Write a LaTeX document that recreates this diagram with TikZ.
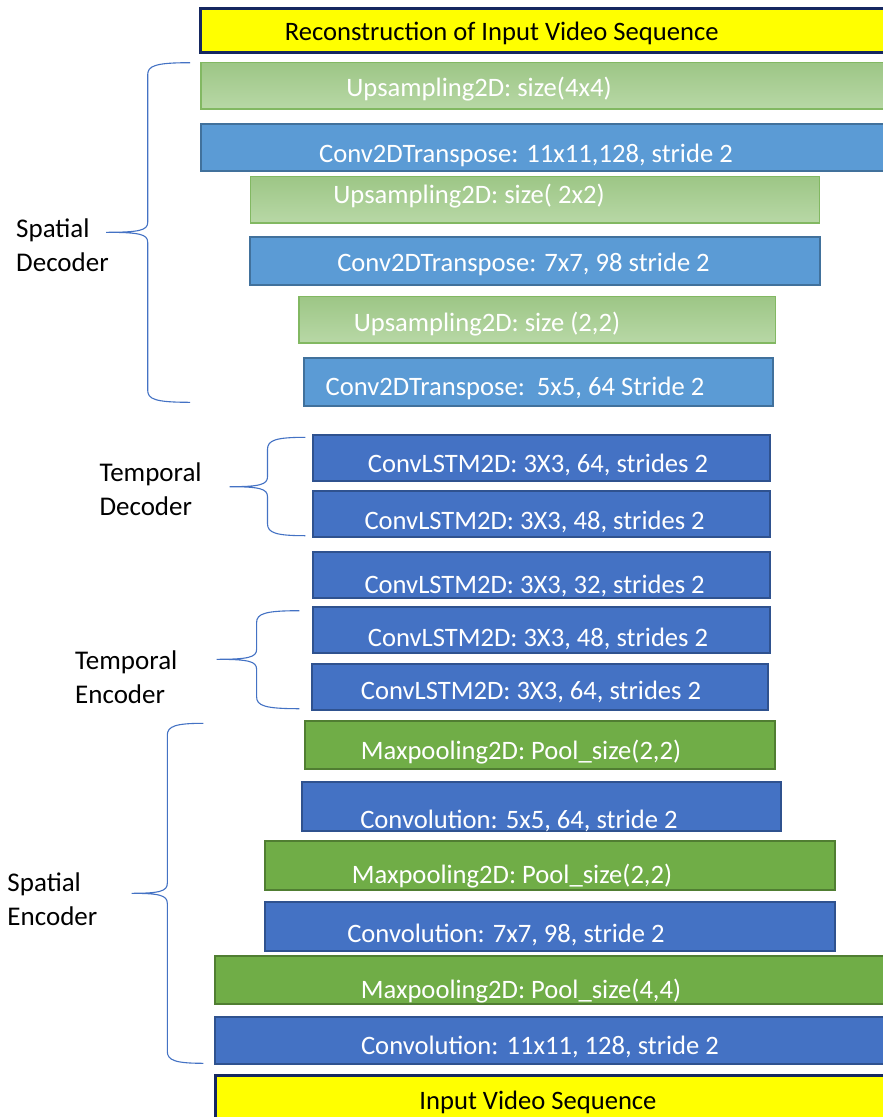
\documentclass[tikz,border=0pt]{standalone}
\usepackage{fontspec}
\setmainfont{Carlito}
\definecolor{ylw}{RGB}{255,255,0}
\definecolor{navy}{RGB}{22,40,96}
\definecolor{lgtop}{RGB}{157,198,134}
\definecolor{lgbot}{RGB}{184,216,166}
\definecolor{lgline}{RGB}{130,184,98}
\definecolor{bluea}{RGB}{91,155,213}
\definecolor{blueaedge}{RGB}{65,113,156}
\definecolor{blueb}{RGB}{68,114,196}
\definecolor{bluebedge}{RGB}{47,82,143}
\definecolor{grn}{RGB}{112,173,71}
\definecolor{grnedge}{RGB}{80,126,50}
\definecolor{bracec}{RGB}{68,114,196}
\newcommand{\wbrace}[6]{% tipx, ytop, xv, xm, ymid, ybot
  \draw[bracecurve] (#1,#2) .. controls ({#3+8},#2) and (#3,{#2+3}) .. (#3,{#2+12})
    -- (#3,{#5-10}) .. controls (#3,{#5-2}) and ({#3-8},#5) .. (#4,#5)
    .. controls ({#3-8},#5) and (#3,{#5+2}) .. (#3,{#5+10})
    -- (#3,{#6-12}) .. controls (#3,{#6-3}) and ({#3+8},#6) .. (#1,#6);}
\begin{document}
\begin{tikzpicture}[x=1pt,y=-1pt,
  box/.style={draw, line width=2pt},
  yellowbox/.style={box, fill=ylw, draw=navy, line width=3pt},
  lightgreenbox/.style={draw=lgline, line width=1.2pt, top color=lgtop, bottom color=lgbot},
  convtbox/.style={box, fill=bluea, draw=blueaedge},
  lstmbox/.style={box, fill=blueb, draw=bluebedge},
  poolbox/.style={box, fill=grn, draw=grnedge},
  lbl/.style={inner sep=0pt, anchor=base, text=white, font=\fontsize{26.6}{31}\selectfont},
  blbl/.style={lbl, text=black},
  side/.style={inner sep=0pt, anchor=base west, align=left, text=black, font=\fontsize{27}{34}\selectfont},
  bracecurve/.style={draw=bracec, line width=1.1pt}
]
\clip (0,0) rectangle (883,1117);
\fill[white] (0,0) rectangle (883,1117);

% boxes
\draw[yellowbox] (200,8) rectangle (900,52);
\path[lightgreenbox] (201,62.7) rectangle (900,109);
\draw[lightgreenbox, fill=none] (201,62.7) rectangle (900,109);
\draw[convtbox] (201,124) rectangle (900,171);
\path[lightgreenbox] (250.4,176.7) rectangle (819.5,223);
\draw[lightgreenbox, fill=none] (250.4,176.7) rectangle (819.5,223);
\draw[convtbox] (250.4,237.3) rectangle (820,285);
\path[lightgreenbox] (299,296.7) rectangle (775.5,343);
\draw[lightgreenbox, fill=none] (299,296.7) rectangle (775.5,343);
\draw[convtbox] (304,358.3) rectangle (772.7,406);
\draw[lstmbox] (313,435) rectangle (769.7,481);
\draw[lstmbox] (313,491) rectangle (769.7,537.3);
\draw[lstmbox] (313,552.3) rectangle (769.7,598.3);
\draw[lstmbox] (313,606.7) rectangle (769.7,652.7);
\draw[lstmbox] (311.5,664) rectangle (768.4,710);
\draw[poolbox] (305.4,720.7) rectangle (775,769);
\draw[lstmbox] (302,781.7) rectangle (780.6,830.7);
\draw[poolbox] (264.5,841) rectangle (835,890);
\draw[lstmbox] (264.5,902) rectangle (835,950.7);
\draw[poolbox] (215,955.7) rectangle (900,1004);
\draw[lstmbox] (215,1016.7) rectangle (900,1064.3);
\draw[yellowbox] (215,1075) rectangle (900,1135);

% texts
\node[blbl] (t1) at (501.7,40) {Reconstruction of Input Video Sequence};
\node[lbl] (t2) at (479,96.7) {Upsampling2D: size(4x4)};
\node[lbl] (t3) at (526,162.7) {Conv2DTranspose: 11x11,128, stride 2};
\node[lbl] (t4) at (469,203.3) {Upsampling2D: size( 2x2)};
\node[lbl] (t5) at (523.5,271.7) {Conv2DTranspose: 7x7, 98 stride 2};
\node[lbl] (t6) at (487,331.7) {Upsampling2D: size (2,2)};
\node[lbl] (t7) at (515,395) {Conv2DTranspose:\ \ 5x5, 64 Stride 2};
\node[lbl] (t8) at (538,472.7) {ConvLSTM2D: 3X3, 64, strides 2};
\node[lbl] (t9) at (534.6,529) {ConvLSTM2D: 3X3, 48, strides 2};
\node[lbl] (t10) at (534.6,593) {ConvLSTM2D: 3X3, 32, strides 2};
\node[lbl] (t11) at (538,646) {ConvLSTM2D: 3X3, 48, strides 2};
\node[lbl] (t12) at (531,699.3) {ConvLSTM2D: 3X3, 64, strides 2};
\node[lbl] (t13) at (521,759) {Maxpooling2D: Pool\_size(2,2)};
\node[lbl] (t14) at (519,828) {Convolution: 5x5, 64, stride 2};
\node[lbl] (t15) at (512,883) {Maxpooling2D: Pool\_size(2,2)};
\node[lbl] (t16) at (506,942) {Convolution: 7x7, 98, stride 2};
\node[lbl] (t17) at (521,998) {Maxpooling2D: Pool\_size(4,4)};
\node[lbl] (t18) at (540,1054) {Convolution: 11x11, 128, stride 2};
\node[blbl] (t19) at (538,1109.5) {Input Video Sequence};

% side labels (anchor at baseline of the second line)
\node[side] (sd) at (16,271) {Spatial\\Decoder};
\node[side] (td) at (99.3,515) {Temporal\\Decoder};
\node[side] (te) at (75,703) {Temporal\\Encoder};
\node[side] (se) at (7.3,925) {Spatial\\Encoder};

% braces
\wbrace{190}{62.7}{147.7}{106}{232.3}{402.3}
\wbrace{305.4}{437.3}{267.5}{229.6}{486.7}{535.7}
\wbrace{299.3}{610.7}{256.6}{216.5}{659.3}{708.7}
\wbrace{203.3}{723.3}{167.3}{131.7}{893.3}{1063.3}
\end{tikzpicture}
\end{document}
